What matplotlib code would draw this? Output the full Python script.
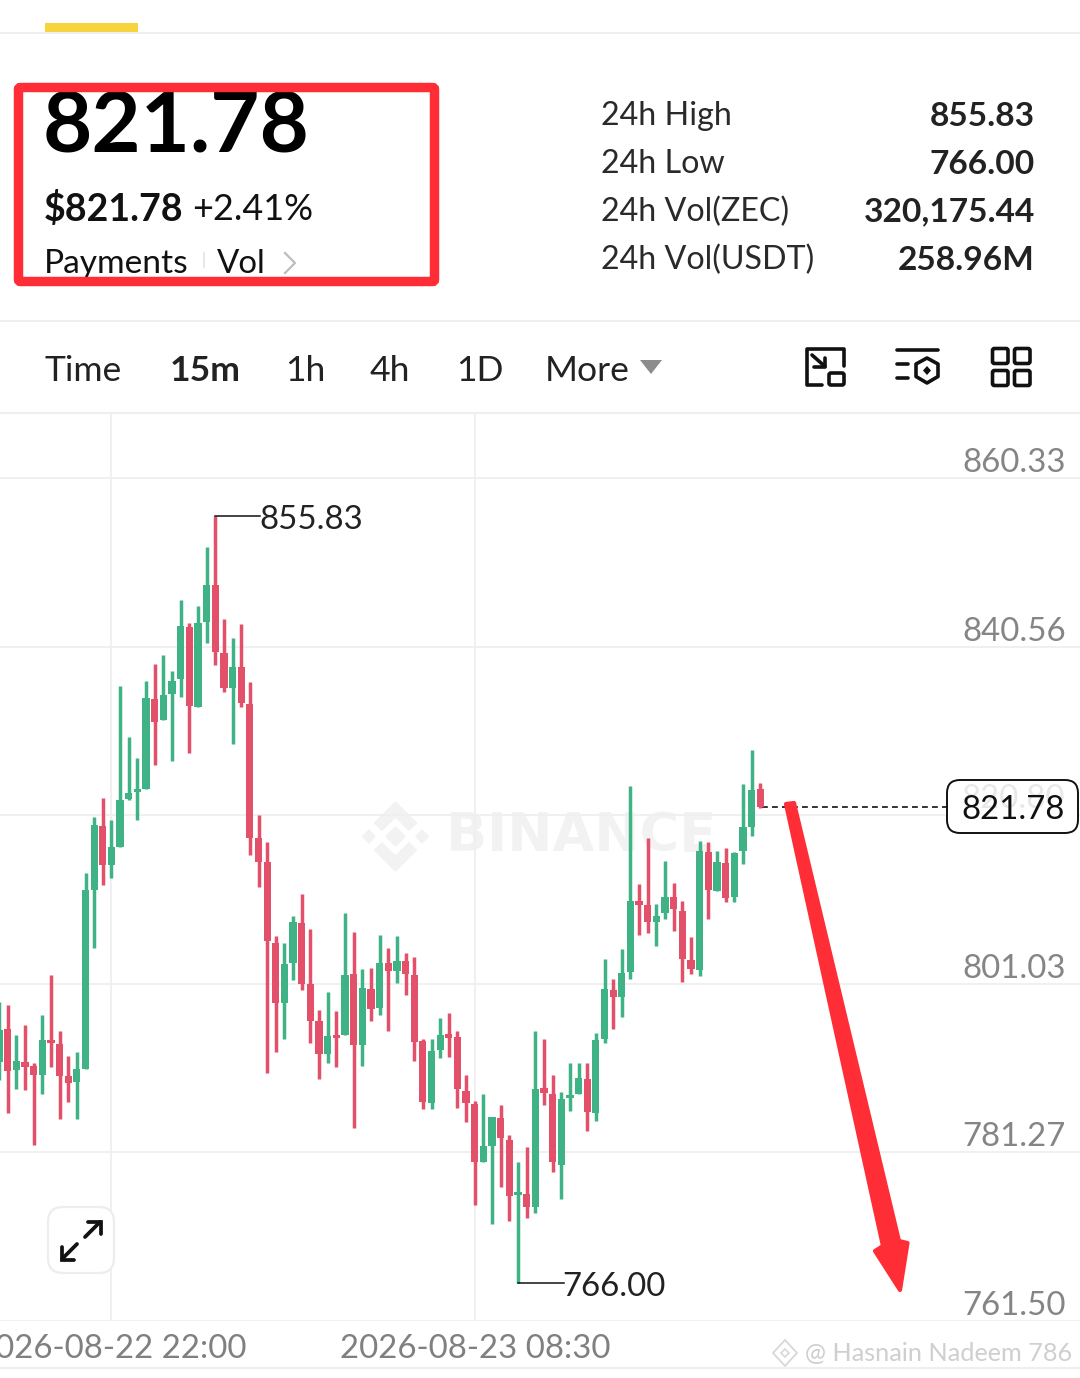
import numpy as np
import matplotlib
matplotlib.use('Agg')
import matplotlib.pyplot as plt
from matplotlib.patches import FancyBboxPatch, Polygon
from matplotlib.transforms import blended_transform_factory

plt.rcParams['font.family'] = ['Lato', 'DejaVu Sans']

# 15m candles
opens = [791.9, 795.7, 790.9, 791.9, 791.4, 790.3, 794.4, 794.0, 790.2, 789.5,
         791.0, 812.0, 819.5, 815.0, 817.1, 822.7, 823.5, 823.9, 834.4, 831.9,
         835.0, 836.8, 842.9, 833.5, 843.5, 847.8, 839.8, 835.7, 838.2, 833.8,
         818.1, 815.3, 805.8, 798.8, 803.5, 808.1, 801.0, 796.7, 792.8, 795.0,
         795.0, 802.2, 793.9, 800.4, 798.2, 803.5, 802.5, 803.7, 802.1, 794.3,
         787.1, 793.3, 795.1, 794.8, 788.5, 786.9, 780.1, 782.0, 785.3, 782.7,
         776.3, 776.4, 774.9, 788.8, 788.1, 779.8, 787.7, 788.1, 789.9, 785.9,
         794.6, 800.3, 799.5, 802.4, 810.7, 810.3, 808.3, 809.3, 811.2, 809.6,
         803.8, 802.7, 816.5, 811.9, 815.2, 811.2, 816.6, 819.4, 823.9]
highs = [798.9, 798.6, 795.0, 796.2, 791.8, 797.4, 802.1, 795.5, 792.6, 793.0,
         814.0, 820.6, 822.8, 820.2, 835.9, 830.0, 827.5, 836.5, 838.5, 839.6,
         837.7, 846.0, 843.3, 845.3, 852.2, 855.83, 843.8, 841.6, 843.2, 836.4,
         820.8, 817.6, 806.6, 805.8, 809.0, 811.6, 807.5, 798.0, 800.1, 797.9,
         809.3, 807.1, 802.8, 802.9, 806.8, 805.2, 806.6, 804.6, 804.2, 794.6,
         794.6, 797.0, 797.6, 795.5, 790.3, 787.3, 788.1, 785.4, 786.8, 783.3,
         780.1, 781.9, 795.5, 794.6, 790.3, 788.4, 791.8, 791.8, 791.8, 795.3,
         803.9, 801.6, 805.1, 824.2, 812.7, 818.1, 810.4, 815.4, 812.9, 810.7,
         806.5, 817.8, 817.7, 816.6, 817.0, 816.5, 824.5, 828.4, 824.6]
lows = [789.8, 785.9, 788.7, 788.6, 782.1, 788.1, 791.3, 785.2, 787.2, 785.2,
        791.0, 805.2, 812.6, 813.4, 817.1, 822.6, 820.2, 823.9, 826.7, 831.9,
        827.2, 834.7, 828.1, 833.5, 841.0, 838.4, 835.2, 829.1, 833.5, 816.1,
        812.4, 790.6, 793.0, 794.6, 801.5, 800.3, 794.1, 789.9, 791.8, 791.3,
        795.0, 784.1, 791.4, 796.7, 797.4, 795.5, 801.1, 799.7, 792.0, 786.4,
        786.4, 792.3, 792.5, 786.5, 784.8, 775.1, 780.1, 772.9, 777.2, 773.2,
        766.0, 773.6, 774.2, 786.8, 779.0, 775.8, 786.1, 788.1, 783.8, 784.9,
        794.1, 795.7, 797.1, 801.6, 806.8, 807.0, 805.5, 808.6, 807.2, 801.3,
        802.2, 801.9, 808.6, 811.9, 810.6, 810.6, 815.1, 818.4, 821.6]
closes = [795.6, 790.8, 792.0, 791.3, 790.3, 794.4, 794.1, 790.2, 789.4, 791.0,
          812.0, 819.7, 815.0, 817.1, 822.6, 823.4, 823.9, 834.5, 831.7, 834.9,
          836.5, 843.0, 833.6, 843.3, 847.8, 839.9, 835.7, 838.2, 834.0, 818.1,
          815.3, 806.1, 798.8, 803.3, 808.3, 801.0, 796.7, 792.8, 794.9, 794.7,
          802.1, 793.9, 800.5, 798.1, 803.5, 802.5, 803.7, 802.2, 794.2, 787.2,
          793.2, 795.0, 794.7, 788.7, 787.1, 780.1, 782.0, 785.4, 782.9, 776.2,
          776.5, 774.9, 788.7, 788.2, 780.1, 787.5, 788.0, 790.0, 786.0, 794.4,
          800.4, 799.5, 802.3, 810.7, 810.3, 808.3, 809.0, 811.2, 809.8, 803.9,
          802.8, 816.6, 812.0, 815.3, 811.1, 816.4, 819.4, 823.8, 821.78]

grid_prices = [860.33, 840.56, 820.80, 801.03, 781.27, 761.50]
price_labels = ['860.33', '840.56', '820.80', '801.03', '781.27', '761.50']
time_ticks = [13, 55]
time_labels = ['2026-08-22 22:00', '2026-08-23 08:30']
stat_names = ['24h High', '24h Low', '24h Vol(ZEC)', '24h Vol(USDT)']
stat_values = ['855.83', '766.00', '320,175.44', '258.96M']
tab_names = ['Time', '15m', '1h', '4h', '1D', 'More']

GREEN = '#3FB385'
RED = '#E2506A'
GRID = '#EFEFEF'
ARROW = '#FF2E36'


def px(size):
    # font size from pixels
    return size * 72 / 100


fig = plt.figure(figsize=(10.8, 13.78), dpi=100, facecolor='white')

# chart axes: 8.65 px per candle, 8.53 px per price unit
ax = fig.add_axes([0, (1378 - 1321) / 1378, 1, (1321 - 414) / 1378], zorder=1)
ax.patch.set_alpha(0)
ax.set_xlim(1 / 8.65, 1081 / 8.65)
ax.set_ylim(761.50, 867.83)
for s in ax.spines.values():
    s.set_visible(False)
ax.set_yticks(grid_prices)
ax.set_yticklabels([])
ax.set_xticks(time_ticks)
ax.set_xticklabels(time_labels, fontsize=px(33), color='#808080')
ax.tick_params(length=0, pad=9)
ax.grid(True, color=GRID, linewidth=1.3)
ax.set_axisbelow(True)

# ui overlay in picture pixels
ui = fig.add_axes([0, 0, 1, 1], zorder=2)
ui.patch.set_alpha(0)
ui.set_xlim(0, 1080)
ui.set_ylim(1378, 0)
ui.axis('off')

# watermark behind candles
wm = '#F2F2F2'
ax.text(446, 836, 'BINANCE', transform=ui.transData, fontsize=px(54), fontweight='bold',
        family=['DejaVu Sans'], color=wm, ha='left', va='center', zorder=0.5)
for pts in ([(395.5, 801), (417.5, 823), (409, 831), (395.5, 818), (382, 831), (373.5, 823)],
            [(395.5, 872), (417.5, 850), (409, 842), (395.5, 855), (382, 842), (373.5, 850)],
            [(395.5, 826), (406, 836.5), (395.5, 847), (385, 836.5)],
            [(369, 829), (376, 836.5), (369, 844), (361.5, 836.5)],
            [(422, 829), (429.5, 836.5), (422, 844), (415, 836.5)]):
    ax.add_patch(Polygon(pts, closed=True, facecolor=wm, edgecolor='none',
                         transform=ui.transData, zorder=0.5))

# candles
idx = np.arange(len(opens))
o = np.array(opens)
c = np.array(closes)
colors = [GREEN if cc >= oo else RED for oo, cc in zip(o, c)]
ax.vlines(idx, lows, highs, colors=colors, linewidth=2.5, zorder=3)
ax.bar(idx, np.maximum(np.abs(c - o), 0.35), bottom=np.minimum(o, c), width=0.84,
       color=colors, linewidth=0, zorder=3)

# high / low markers
hi = int(np.argmax(highs))
lo = int(np.argmin(lows))
ax.plot([hi, hi + 5.2], [highs[hi], highs[hi]], color='#111111', linewidth=1.1, zorder=4)
ax.annotate(f'{highs[hi]:.2f}', (hi + 5.1, highs[hi]), xytext=(0, -4), textcoords='offset pixels',
            fontsize=px(33), color='#222222', va='center', zorder=4)
ax.plot([lo, lo + 5.3], [lows[lo], lows[lo]], color='#111111', linewidth=1.1, zorder=4)
ax.annotate(f'{lows[lo]:.2f}', (lo + 5.1, lows[lo]), xytext=(0, -4), textcoords='offset pixels',
            fontsize=px(33), color='#222222', va='center', zorder=4)

# price scale labels, sitting on their grid lines
label_tr = blended_transform_factory(ui.transData, ax.transData)
for p, lab in zip(grid_prices, price_labels):
    ax.text(1066, p, lab, transform=label_tr, fontsize=px(33), color='#858585', ha='right', va='bottom', zorder=2)

# last price line and tag
ax.plot([idx[-1] + 0.2, 1090 / 8.65], [closes[-1], closes[-1]], color='#111111', linewidth=1.2,
        linestyle=(0, (3.5, 2.5)), zorder=2)
ui.add_patch(FancyBboxPatch((959, 792), 107, 29, boxstyle='round,pad=12,rounding_size=13',
                            facecolor='white', edgecolor='#111111', linewidth=1.4, zorder=3))
ui.text(1065, 799, price_labels[2], fontsize=px(33), color='#E8E8E8', ha='right', va='center', zorder=3.1)
ui.text(1065, 810, f'{closes[-1]:.2f}', fontsize=px(33), color='#111111', ha='right', va='center', zorder=3.2)

# header
ui.add_patch(plt.Rectangle((45, 23), 93, 9, facecolor='#F7D33C', edgecolor='none'))
for y in [33, 321, 413, 1368]:
    ui.plot([0, 1080], [y, y], color=GRID, linewidth=1.5)

ui.text(43, 128, f'{closes[-1]:.2f}', fontsize=px(85), fontweight='bold', color='black', va='center')
ui.text(43.5, 209, f'${closes[-1]:.2f}', fontsize=px(37.5), fontweight='bold', color='#111111', va='center')
ui.text(192, 209, '+2.41%', fontsize=px(36), color='#111111', va='center')
ui.text(44, 264, 'Payments', fontsize=px(33.5), color='#111111', va='center')
ui.plot([204, 204], [253, 267], color='#E8E8E8', linewidth=1.5)
ui.text(217, 264, 'Vol', fontsize=px(33), color='#111111', va='center')
ui.plot([285, 295, 285], [253, 263, 273], color='#BDBDBD', linewidth=1.6)

# red box drawn by hand over the screenshot
ui.add_patch(FancyBboxPatch((18.5, 87.5), 416, 194, boxstyle='round,pad=0,rounding_size=2',
                            facecolor='none', edgecolor=ARROW, linewidth=6.8, zorder=5))

for i, (n, v) in enumerate(zip(stat_names, stat_values)):
    y = 116 + 48 * i
    ui.text(601, y, n, fontsize=px(32.3), color='#2A2A2A', va='center')
    ui.text(1035, y, v, fontsize=px(33.5), fontweight='bold', color='#222222', ha='right', va='center')

for name, x in zip(tab_names, [44.5, 170, 285, 370, 456, 545]):
    ui.text(x, 371, name, fontsize=px(35.5), color='#222222', va='center',
            fontweight='bold' if name == '15m' else 'normal')
ui.add_patch(Polygon([(640, 360), (662, 360), (651, 374)], closed=True, facecolor='#8C8C8C', edgecolor='none'))

# toolbar icons
lw = 2.6
k = dict(color='#111111', linewidth=lw, solid_capstyle='round', solid_joinstyle='round')
ui.plot([822, 806.5, 806.5, 844, 844], [385, 385, 349, 349, 366], **k)
ui.plot([812, 825], [355, 366.5], **k)
ui.plot([825, 825, 813.5], [358, 366.5, 366.5], **k)
ui.add_patch(FancyBboxPatch((829, 373), 15, 12, boxstyle='round,pad=0,rounding_size=2', facecolor='none',
                            edgecolor='#111111', linewidth=lw))
ui.plot([897, 938], [350, 350], **k)
ui.plot([897, 908], [364, 364], **k)
ui.plot([897, 908], [378, 378], **k)
ui.add_patch(Polygon([(927, 358), (938, 364), (938, 376.5), (927, 383), (916, 376.5), (916, 364)], closed=True,
                     facecolor='none', edgecolor='#111111', linewidth=lw, joinstyle='round'))
ui.add_patch(Polygon([(927, 366), (931, 370.5), (927, 375), (923, 370.5)], closed=True, facecolor='#111111'))
for x0 in [992.5, 1014.5]:
    for y0 in [348.5, 370.5]:
        ui.add_patch(FancyBboxPatch((x0, y0), 15.5, 15, boxstyle='round,pad=0,rounding_size=2', facecolor='none',
                                    edgecolor='#111111', linewidth=lw))

# expand button
ui.add_patch(FancyBboxPatch((48, 1207), 66, 66, boxstyle='round,pad=0,rounding_size=15', facecolor='white',
                            edgecolor='#EDEDED', linewidth=1.6, zorder=3))
k2 = dict(color='#111111', linewidth=2.7, solid_capstyle='round', solid_joinstyle='miter', zorder=4)
ui.plot([85, 100], [1237, 1222], **k2)
ui.plot([88, 100.5, 100.5], [1221.5, 1221.5, 1234], **k2)
ui.plot([77, 62], [1244, 1259], **k2)
ui.plot([61.5, 61.5, 74], [1247, 1259.5, 1259.5], **k2)

# big red arrow
ui.add_patch(Polygon([(786, 804), (794, 803), (899, 1241), (907.5, 1243), (900, 1290), (875, 1251), (883, 1246)],
                     closed=True, facecolor=ARROW, edgecolor=ARROW, linewidth=3, joinstyle='round', zorder=6))

# bottom watermark
ui.text(805, 1353, '@ Hasnain Nadeem 786', fontsize=px(25.2), color='#CFCFCF', va='center', zorder=6)
ui.add_patch(Polygon([(785, 1340), (797, 1353), (785, 1366), (773, 1353)], closed=True, facecolor='none',
                     edgecolor='#D8D8D8', linewidth=1.3))
ui.add_patch(Polygon([(785, 1349), (789, 1353), (785, 1357), (781, 1353)], closed=True, facecolor='none',
                     edgecolor='#D8D8D8', linewidth=1.2))

fig.savefig('out.png', dpi=100)
plt.close(fig)
